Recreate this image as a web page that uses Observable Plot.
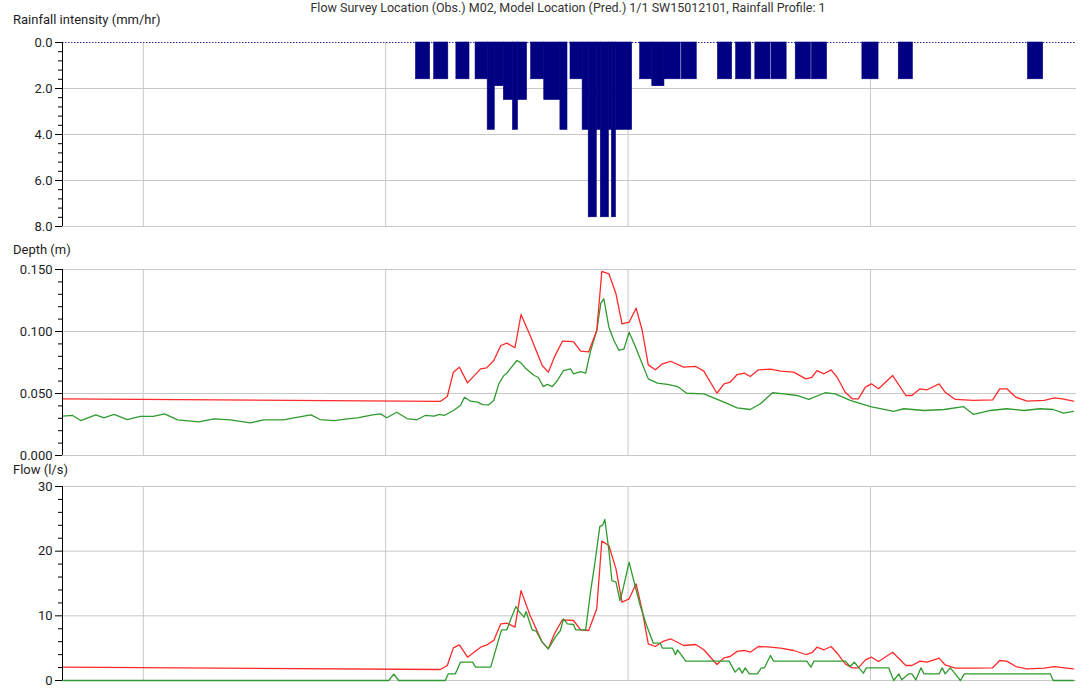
<!DOCTYPE html>
<html><head><meta charset="utf-8">
<script src="https://cdn.jsdelivr.net/npm/d3@7"></script>
<script src="https://cdn.jsdelivr.net/npm/@observablehq/plot@0.6"></script>
<style>
body{margin:0;background:#fff;font-family:Roboto,sans-serif;color:#1e1e1e;}
#wrap{position:relative;width:1082px;height:692px;overflow:hidden;}
.lbl{position:absolute;left:13px;font-size:13px;line-height:16px;white-space:nowrap;}
.panel{position:absolute;left:0;}
#title{position:absolute;left:27px;width:1082px;text-align:center;top:0px;font-size:12.5px;line-height:16px;white-space:nowrap;color:#333;}
</style></head><body>
<div id="wrap">
<div id="title">Flow Survey Location (Obs.) M02, Model Location (Pred.) 1/1 SW15012101, Rainfall Profile: 1</div>
<div class="lbl" style="top:11.6px">Rainfall intensity (mm/hr)</div>
<div class="panel" id="p1" style="top:32px"></div>
<div class="lbl" style="top:241.6px">Depth (m)</div>
<div class="panel" id="p2" style="top:259px"></div>
<div class="lbl" style="top:462.3px">Flow (l/s)</div>
<div class="panel" id="p3" style="top:476px"></div>
</div>
<script>
// time in minutes from the start of the plotted window
const xGridTimes = [80, 320, 560, 800];
const rainTicks = [0, 2, 4, 6, 8];
const depthTicks = [0, 0.05, 0.1, 0.15];
const flowTicks = [0, 10, 20, 30];

const rainStart = [350,368,390,409,421,428,437,446,451,464,477,493,503,515,521,529,533,541,544,548,572,584,596,613,649,667,686,702,726,742,792,828,956];
const rainEnd   = [364,382,403,421,428,437,446,451,460,477,493,500,515,521,529,533,541,544,548,564,584,596,612,628,663,682,701,717,741,757,808,842,971];
const rainValue = [1.6,1.6,1.6,1.6,3.8,1.9,2.5,3.8,2.5,1.6,2.5,3.8,1.6,3.8,7.6,3.8,7.6,3.8,7.6,3.8,1.6,1.9,1.6,1.6,1.6,1.6,1.6,1.6,1.6,1.6,1.6,1.6,1.6];

// predicted (model) series
const predTime = [0,374,381,387,393,401,414,420,427,434,440,448,454,463,475,481,487,495,506,513,521,529,534,541,548,554,561,568,574,580,587,594,602,615,627,635,648,655,661,668,675,681,689,701,711,724,736,742,747,754,761,767,775,782,788,795,801,808,822,835,841,849,856,868,874,884,902,921,928,935,944,955,972,982,990,1001];
const predDepth = [0.0457,0.0436,0.0476,0.0672,0.0712,0.0586,0.0699,0.0707,0.0766,0.0887,0.0906,0.0869,0.1137,0.0968,0.0726,0.0672,0.0793,0.0922,0.0919,0.0841,0.0836,0.1008,0.1484,0.1465,0.1304,0.1062,0.1075,0.1188,0.1008,0.0731,0.0691,0.0739,0.0760,0.0712,0.0718,0.0680,0.0502,0.0578,0.0591,0.0653,0.0664,0.0637,0.0691,0.0696,0.0680,0.0672,0.0618,0.0631,0.0685,0.0659,0.0691,0.0631,0.0510,0.0457,0.0457,0.0551,0.0578,0.0538,0.0645,0.0484,0.0484,0.0538,0.0530,0.0578,0.0510,0.0452,0.0444,0.0449,0.0538,0.0538,0.0470,0.0438,0.0444,0.0465,0.0457,0.0438];
const predFlow = [2.06,1.70,2.32,5.05,5.50,3.60,5.15,5.50,6.20,8.77,8.86,8.25,13.90,10.05,5.93,4.90,7.20,9.39,9.28,7.84,7.73,11.09,21.55,20.88,17.27,12.11,12.63,14.95,10.82,5.67,5.26,6.00,6.45,5.41,5.57,4.75,2.47,3.51,3.71,4.50,4.64,4.38,5.26,5.15,5.00,4.64,4.02,4.30,5.15,4.75,5.26,4.22,2.58,1.96,1.96,3.20,3.60,2.94,4.38,2.32,2.32,2.99,2.83,3.45,2.40,1.90,1.90,1.96,3.09,2.99,2.16,1.80,1.90,2.16,2.00,1.80];

// observed (flow survey) series
const obsDepthTime = [0,10,18,33,41,51,64,77,90,101,114,135,150,166,186,199,219,229,246,255,269,282,292,307,315,321,331,341,351,359,368,373,378,387,394,398,404,411,416,422,427,432,437,440,444,450,454,459,467,471,476,480,485,490,496,503,506,513,518,523,529,533,536,541,546,551,556,561,566,572,580,589,599,609,618,635,655,668,681,691,703,714,727,739,755,765,780,800,823,833,853,873,892,902,919,935,952,968,981,991,1001];
const obsDepth = [0.0317,0.0323,0.0282,0.0328,0.0304,0.0331,0.0290,0.0315,0.0315,0.0336,0.0288,0.0271,0.0296,0.0288,0.0263,0.0288,0.0288,0.0304,0.0328,0.0290,0.0282,0.0296,0.0304,0.0328,0.0336,0.0304,0.0349,0.0298,0.0288,0.0323,0.0317,0.0331,0.0323,0.0363,0.0403,0.0470,0.0438,0.0430,0.0411,0.0409,0.0444,0.0578,0.0645,0.0664,0.0707,0.0766,0.0747,0.0699,0.0645,0.0631,0.0556,0.0573,0.0556,0.0605,0.0685,0.0699,0.0659,0.0677,0.0664,0.0847,0.1008,0.1228,0.1263,0.1035,0.0927,0.0847,0.0860,0.0994,0.0901,0.0780,0.0618,0.0583,0.0573,0.0556,0.0502,0.0497,0.0430,0.0384,0.0371,0.0417,0.0506,0.0497,0.0484,0.0452,0.0506,0.0497,0.0444,0.0395,0.0355,0.0377,0.0363,0.0371,0.0395,0.0331,0.0363,0.0377,0.0363,0.0377,0.0371,0.0341,0.0355];
const obsFlowTime = [0,323,328,333,379,382,389,394,406,409,424,434,435,440,444,449,452,457,459,465,469,475,481,488,493,496,500,506,508,518,523,527,532,535,537,541,544,548,552,555,561,566,572,578,585,592,594,604,607,609,613,617,660,666,670,673,676,680,688,692,695,701,704,737,741,744,775,780,784,788,793,796,818,823,828,831,838,841,845,850,853,868,871,874,879,884,889,893,978,981,1001];
const obsFlow = [0,0,1.0,0,0,1.03,1.03,2.83,2.83,2.06,2.06,7.47,7.84,7.84,9.54,11.44,10.67,9.79,10.67,7.84,7.62,5.93,4.9,6.7,7.73,9.54,8.77,8.66,7.84,7.84,13.9,18.04,23.8,24.07,24.9,20.1,15.46,15.2,12.37,14.18,18.3,15.2,11.6,8.66,5.77,5.77,5.0,5.0,4.0,4.75,3.87,3.0,3.0,1.29,1.96,1.13,1.96,1.03,1.03,1.96,1.96,3.87,3.0,3.0,2.06,3.0,3.0,2.16,2.83,2.06,1.13,1.96,1.96,0,1.03,0.1,1.03,1.03,0.1,1.96,1.03,1.03,1.96,1.03,1.96,1.03,0,1.03,1.03,0,0];

const rain = rainStart.map((s, i) => ({s, e: rainEnd[i], v: rainValue[i]}));
const pred = predTime.map((t, i) => ({t, d: predDepth[i], f: predFlow[i]}));
const obsD = obsDepthTime.map((t, i) => ({t, v: obsDepth[i]}));
const obsF = obsFlowTime.map((t, i) => ({t, v: obsFlow[i]}));

const GRID = "#c8c8c8", RED = "#ff2a2a", GREEN = "#2f9a2f", NAVY = "#000080";
const FONT = 'Roboto, sans-serif';

function minorOf(ticks, n) {
  const out = [];
  for (let i = 0; i < ticks.length - 1; i++) {
    const a = ticks[i], b = ticks[i + 1];
    for (let k = 1; k < n; k++) out.push(a + (b - a) * k / n);
  }
  return out;
}

function panel({height, yDomain, reverse = false, majors, fmt, marks, gridMajors}) {
  return Plot.plot({
    width: 1082, height,
    marginLeft: 62, marginRight: 6, marginTop: 10, marginBottom: 10,
    x: {domain: [0, 1004], axis: null},
    y: {domain: yDomain, reverse, axis: null},
    style: {fontFamily: FONT, fontSize: "13px", color: "#1e1e1e", background: "transparent", overflow: "visible"},
    marks: [
      Plot.gridX(xGridTimes, {stroke: GRID, strokeOpacity: 1}),
      Plot.gridY(gridMajors ?? majors, {stroke: GRID, strokeOpacity: 1}),
      ...marks,
      Plot.ruleX([0], {stroke: "#000", strokeWidth: 1}),
      Plot.axisY(minorOf(majors, 5), {tickSize: 4, fill: "none", stroke: "#000", label: null}),
      Plot.axisY(majors, {tickSize: 7, tickPadding: 3, tickFormat: fmt, stroke: "#000", fill: "#1e1e1e", label: null})
    ]
  });
}

document.getElementById("p1").append(panel({
  height: 204, yDomain: [0, 8], reverse: true, majors: rainTicks, gridMajors: [2, 4, 6, 8],
  fmt: d3.format(".1f"),
  marks: [
    Plot.ruleY([0], {stroke: "#2a2aa0", strokeDasharray: "1.5,1.5", strokeWidth: 1}),
    Plot.rect(rain, {x1: "s", x2: "e", y1: 0, y2: "v", fill: NAVY, stroke: NAVY, strokeWidth: 0.6})
  ]
}));

document.getElementById("p2").append(panel({
  height: 206, yDomain: [0, 0.15], majors: depthTicks,
  fmt: d3.format(".3f"),
  marks: [
    Plot.line(obsD, {x: "t", y: "v", stroke: GREEN, strokeWidth: 1.3}),
    Plot.line(pred, {x: "t", y: "d", stroke: RED, strokeWidth: 1.3})
  ]
}));

document.getElementById("p3").append(panel({
  height: 214, yDomain: [0, 30], majors: flowTicks,
  fmt: d3.format("d"),
  marks: [
    Plot.line(pred, {x: "t", y: "f", stroke: RED, strokeWidth: 1.3}),
    Plot.line(obsF, {x: "t", y: "v", stroke: GREEN, strokeWidth: 1.3})
  ]
}));
</script>
</body></html>
